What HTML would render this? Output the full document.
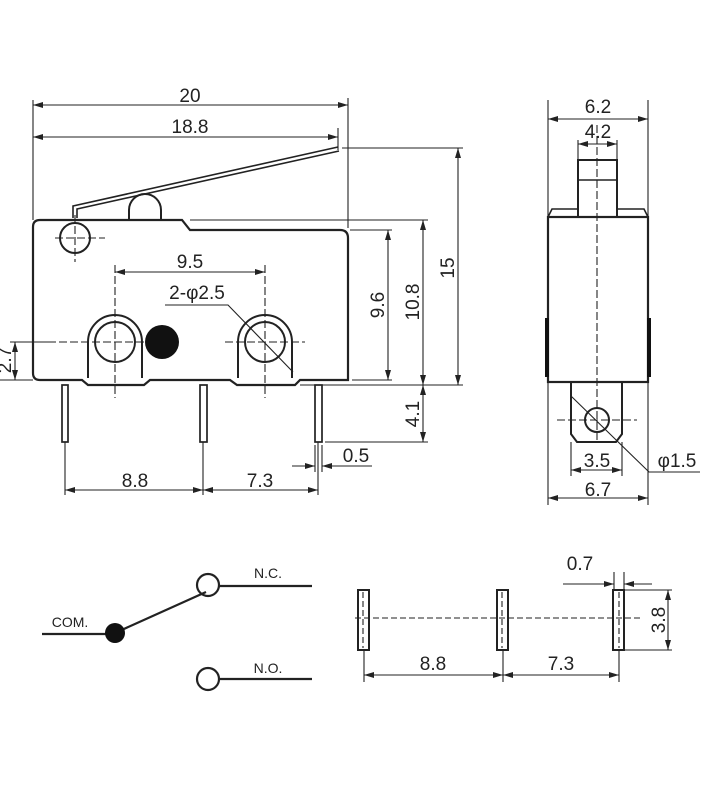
<!DOCTYPE html>
<html><head><meta charset="utf-8"><style>
html,body{margin:0;padding:0;background:#fff;}
svg{display:block}
text{font-family:"Liberation Sans",sans-serif;fill:#222}
</style></head><body>
<svg width="728" height="800" viewBox="0 0 728 800" xmlns="http://www.w3.org/2000/svg">
<defs>
<marker id="a" viewBox="0 0 10 6" refX="10" refY="3" markerWidth="10" markerHeight="6" orient="auto-start-reverse" markerUnits="userSpaceOnUse"><path d="M0,0L10,3L0,6z" fill="#222"/></marker>
</defs>
<g stroke="#222" fill="none" stroke-width="1.1">
<path d="M40,220 H182 L190,230 H340 Q348,230 348,238 V380 H300 L295,385 H237 L230,380 H150 L144,385 H88 L82,380 H40 Q33,380 33,373 V227 Q33,220 40,220 Z" stroke-width="2.2"/>
<path d="M88,378 V342 A27,27 0 0 1 142,342 V378" stroke-width="2"/>
<path d="M238,378 V342 A27,27 0 0 1 292,342 V378" stroke-width="2"/>
<circle cx="115" cy="342" r="20" stroke-width="2"/>
<circle cx="265" cy="342" r="20" stroke-width="2"/>
<circle cx="75" cy="238" r="15" stroke-width="2"/>
<path d="M129,220 V210 A16,16 0 0 1 161,210 V220" stroke-width="2"/>
<path d="M73,218 V206 L338,147" stroke-width="1.6"/>
<path d="M77,218 V209 L339,151" stroke-width="1.6"/>
<rect x="62" y="385" width="6" height="57" stroke-width="1.7"/>
<rect x="200" y="385" width="7" height="57" stroke-width="1.7"/>
<rect x="315" y="385" width="7" height="57" stroke-width="1.7"/>
<g stroke-dasharray="8,3">
<path d="M55,238 H105 M75,215 V262"/>
<path d="M48,342 H148 M115,265 V398"/>
<path d="M225,342 H305 M265,265 V398"/>
</g>
<path d="M33,100 V220 M348,98 V228 M338,128 V150"/>
<path d="M33,105 H348" marker-start="url(#a)" marker-end="url(#a)"/>
<path d="M33,137 H338" marker-start="url(#a)" marker-end="url(#a)"/>
<path d="M342,148 H463 M190,220 H428 M350,230 H392 M352,380 H392 M300,385 H463 M325,442 H428 M10,342 H48"/>
<path d="M458,148 V385" marker-start="url(#a)" marker-end="url(#a)"/>
<path d="M423,220 V385" marker-start="url(#a)" marker-end="url(#a)"/>
<path d="M388,230 V380" marker-start="url(#a)" marker-end="url(#a)"/>
<path d="M423,385 V442" marker-start="url(#a)" marker-end="url(#a)"/>
<path d="M15,342 V380" marker-start="url(#a)" marker-end="url(#a)"/>
<path d="M0,380 H33"/>
<path d="M115,272 H265" marker-start="url(#a)" marker-end="url(#a)"/>
<path d="M165,305 H228 L293,372"/>
<path d="M65,442 V495 M203,442 V495 M318,442 V495 M315,445 V472 M322,445 V472"/>
<path d="M65,490 H203" marker-start="url(#a)" marker-end="url(#a)"/>
<path d="M203,490 H318" marker-start="url(#a)" marker-end="url(#a)"/>
<path d="M292,466 H315" marker-end="url(#a)"/>
<path d="M372,466 H322" marker-end="url(#a)"/>
<path d="M548,217 L552,209 H578 M617,209 H644 L648,217" stroke-width="1.6"/>
<rect x="548" y="217" width="100" height="165" stroke-width="2.2"/>
<rect x="578" y="160" width="39" height="57" stroke-width="2"/>
<path d="M578,180 H617" stroke-width="1.6"/>
<path d="M571,382 V434 L577,442 H616 L622,434 V382" stroke-width="2"/>
<circle cx="597" cy="420" r="12" stroke-width="2"/>
<path d="M597,125 V440 M557,420 H637" stroke-dasharray="8,3"/>
<path d="M548,100 V505 M648,100 V505 M578,140 V160 M617,140 V160 M571,442 V476 M622,442 V476"/>
<path d="M548,119 H648" marker-start="url(#a)" marker-end="url(#a)"/>
<path d="M578,144 H617" marker-start="url(#a)" marker-end="url(#a)"/>
<path d="M571,470 H622" marker-start="url(#a)" marker-end="url(#a)"/>
<path d="M548,498 H648" marker-start="url(#a)" marker-end="url(#a)"/>
<path d="M571,396 L649,472 H700"/>
<path d="M42,634 H110 M115,633 L206,592 M219,586 H312 M219,679 H312" stroke-width="2.2"/>
<circle cx="208" cy="585" r="11" stroke-width="2.2"/>
<circle cx="208" cy="679" r="11" stroke-width="2.2"/>
<rect x="358" y="590" width="11" height="60" stroke-width="2"/>
<rect x="497" y="590" width="11" height="60" stroke-width="2"/>
<rect x="613" y="590" width="11" height="60" stroke-width="2"/>
<path d="M355,618 H640 M363,592 V648 M502,592 V648 M619,592 V648" stroke-dasharray="6,3"/>
<path d="M364,650 V682 M503,650 V682 M619,650 V682 M614,572 V590 M624,572 V590 M624,590 H672 M624,650 H672"/>
<path d="M364,675 H503" marker-start="url(#a)" marker-end="url(#a)"/>
<path d="M503,675 H619" marker-start="url(#a)" marker-end="url(#a)"/>
<path d="M668,590 V650" marker-start="url(#a)" marker-end="url(#a)"/>
<path d="M563,584 H614" marker-end="url(#a)"/>
<path d="M652,584 H624" marker-end="url(#a)"/>
</g>
<g fill="#111">
<circle cx="162" cy="342" r="17"/>
<circle cx="115" cy="633" r="10"/>
<rect x="545" y="318" width="4" height="59"/>
<rect x="647" y="318" width="4" height="59"/>
</g>
<g font-size="19" text-anchor="middle">
<text x="190" y="102">20</text>
<text x="190" y="133">18.8</text>
<text x="190" y="268">9.5</text>
<text x="197" y="299">2-φ2.5</text>
<text x="135" y="487">8.8</text>
<text x="260" y="487">7.3</text>
<text x="356" y="462">0.5</text>
<text transform="translate(454,268) rotate(-90)">15</text>
<text transform="translate(419,302) rotate(-90)">10.8</text>
<text transform="translate(384,305) rotate(-90)">9.6</text>
<text transform="translate(419,414) rotate(-90)">4.1</text>
<text transform="translate(11,360) rotate(-90)">2.7</text>
<text x="598" y="113">6.2</text>
<text x="598" y="138">4.2</text>
<text x="597" y="467">3.5</text>
<text x="598" y="496">6.7</text>
<text x="677" y="467">φ1.5</text>
<text x="433" y="670">8.8</text>
<text x="561" y="670">7.3</text>
<text x="580" y="570">0.7</text>
<text transform="translate(665,620) rotate(-90)">3.8</text>
</g>
<g font-size="14" text-anchor="middle">
<text x="70" y="627">COM.</text>
<text x="268" y="578">N.C.</text>
<text x="268" y="673">N.O.</text>
</g>
</svg>
</body></html>
